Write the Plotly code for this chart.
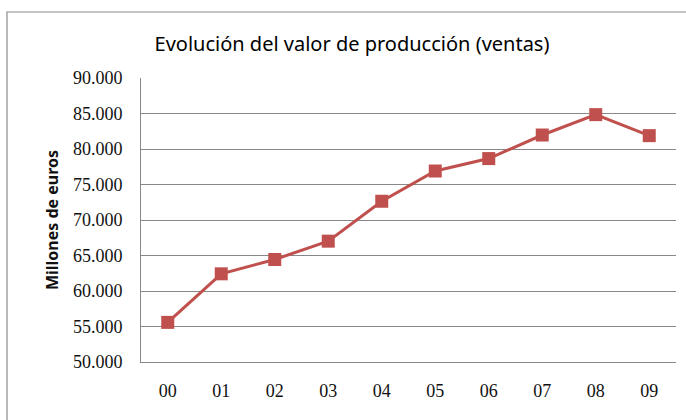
import plotly.graph_objects as go

years = ["00", "01", "02", "03", "04", "05", "06", "07", "08", "09"]
ventas = [55580, 62420, 64440, 67020, 72640, 76900, 78650, 81970, 84840, 81880]
y_ticks = [50000, 55000, 60000, 65000, 70000, 75000, 80000, 85000, 90000]
y_tick_labels = ["50.000", "55.000", "60.000", "65.000", "70.000", "75.000", "80.000", "85.000", "90.000"]

W, H = 686, 420
L, R, T, B = 141, 10, 78, 58
pw, ph = W - L - R, H - T - B

def px_x(p):
    return (p - L) / pw

def px_y(p):
    return (H - B - p) / ph

fig = go.Figure()
fig.add_trace(go.Scatter(
    x=years, y=ventas, mode="lines+markers",
    line=dict(color="#C0504D", width=3),
    marker=dict(symbol="square", size=13, color="#C0504D"),
    showlegend=False,
))

fig.update_layout(
    width=W, height=H,
    margin=dict(l=L, r=R, t=T, b=B, autoexpand=False),
    paper_bgcolor="white", plot_bgcolor="white",
    title=dict(text="Evolución del valor de producción (ventas)",
               xref="container", x=352 / W, xanchor="center",
               yref="container", y=1 - 44 / H, yanchor="middle",
               font=dict(family="Noto Sans", size=20, color="#000000")),
    xaxis=dict(type="category", showgrid=False, showline=True, linecolor="#888888",
               linewidth=1, ticks="", range=[-0.5, 9.5], ticklabelstandoff=12,
               tickfont=dict(family="Liberation Serif", size=18, color="#111111")),
    yaxis=dict(range=[50000, 90000], tickvals=y_ticks, ticktext=y_tick_labels,
               showgrid=True, gridcolor="#888888", gridwidth=1,
               showline=True, linecolor="#888888", linewidth=1, ticks="",
               zeroline=False, ticklabelstandoff=14,
               tickfont=dict(family="Liberation Serif", size=18, color="#111111"),
               title=dict(text="<b>Millones de euros</b>", standoff=10,
                          font=dict(family="Noto Sans", size=16, color="#111111"))),
    shapes=[dict(type="rect", xref="paper", yref="paper",
                 x0=px_x(7), x1=px_x(700), y0=px_y(430), y1=px_y(12),
                 line=dict(color="#8c8c8c", width=1.2), layer="below")],
)

fig.write_html("out.html", config={"displayModeBar": False})

with open("out.html", "r", encoding="utf-8") as f:
    html = f.read()
html = html.replace("<head>", "<head><style>html,body{margin:0;padding:0;overflow:hidden}</style>", 1)
with open("out.html", "w", encoding="utf-8") as f:
    f.write(html)
